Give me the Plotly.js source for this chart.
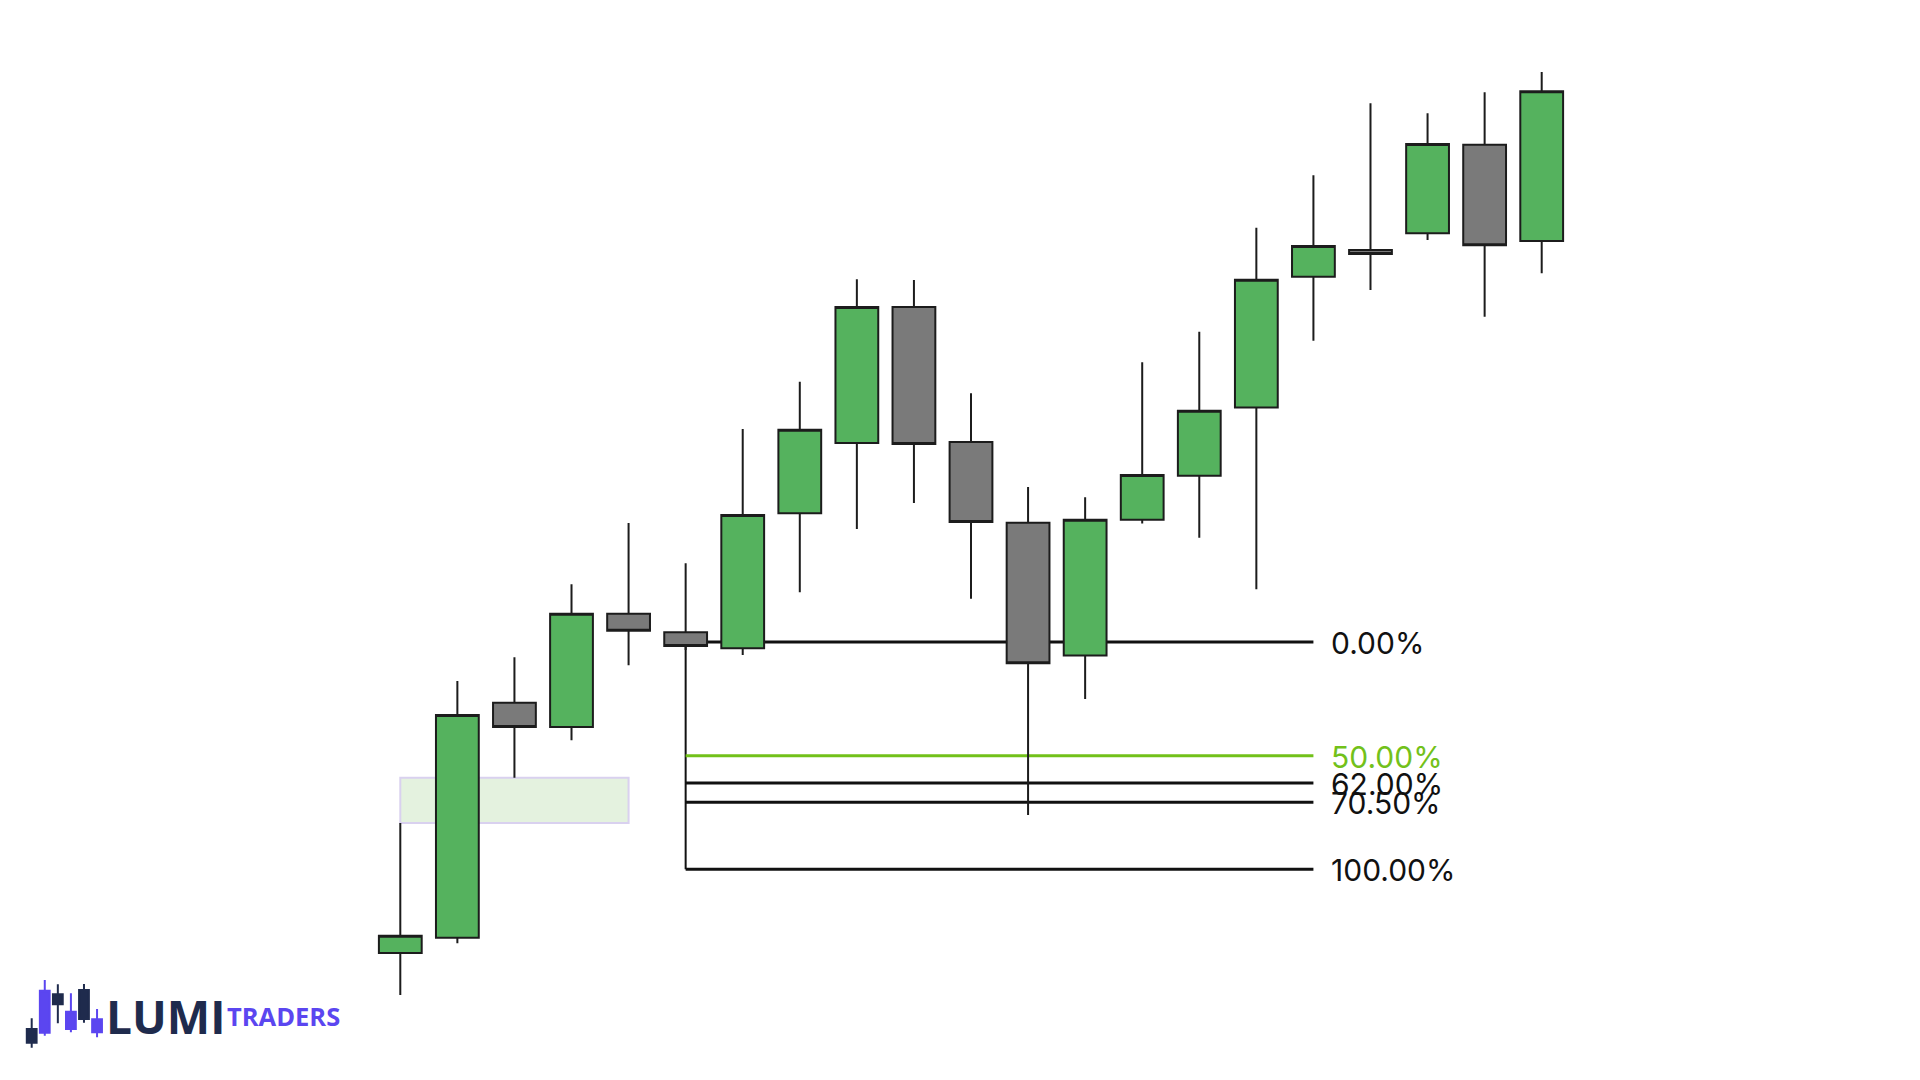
<!DOCTYPE html>
<html>
<head>
<meta charset="utf-8">
<script src="https://cdn.plot.ly/plotly-3.0.1.min.js"></script>
<style>
  html, body { margin: 0; padding: 0; background: #ffffff; }
  #chart { width: 1920px; height: 1080px; }
</style>
</head>
<body>
<div id="chart"></div>
<script>
// ---- main candles (price units) ----
const candleIdx = [0,1,2,3,4,5,6,7,8,9,10,11,12,13,14,15,16,17,18,19,20];
const openP  = [127, 142.3, 377.3, 353, 466.3, 447.7, 431.7, 566.7, 637, 773, 638, 557.3, 424.6, 560.3, 604.2, 672.6, 803.3, 830, 846.7, 935.3, 839];
const highP  = [257, 399, 422.7, 495.7, 557.1, 516.7, 651, 698.3, 800.7, 800, 686.7, 593, 582.8, 717.7, 748.3, 852.2, 904.7, 976.7, 966.7, 987.7, 1008];
const lowP   = [85, 136.7, 302.3, 339.7, 414.7, 430, 425, 487.7, 551, 577, 481.3, 265, 381, 556.5, 542.3, 490.7, 739.3, 790, 840, 763.3, 806.7];
const closeP = [144.3, 365, 353, 466.3, 449.3, 434, 565, 650.3, 773, 636, 558, 416.7, 560.3, 605, 669.2, 800.3, 834, 826, 936, 834.7, 988.7];

// ---- fair value gap zone ----
const zoneStart = 0, zoneEnd = 4;
const zoneBottom = highP[0];   // candle 1 high
const zoneTop = lowP[2];       // candle 3 low

// ---- fibonacci retracement ----
const fibStart = 5, fibEnd = 16;
const fibZero = 438;      // 0% level
const fibHundred = 210.7; // 100% level
const fibRatios = [0, 0.5, 0.62, 0.705, 1];
const fibLabels = ["0.00%", "50.00%", "62.00%", "70.50%", "100.00%"];
const fibColors = ["#111111", "#72c11a", "#111111", "#111111", "#111111"];

// ---- logo icon candles ----
const logoIdx   = [0,1,2,3,4,5];
const logoOpen  = [51, 47.3, 85.7, 51, 90, 47.7];
const logoHigh  = [61.7, 100, 95.7, 86.7, 96, 71];
const logoLow   = [32.3, 44.3, 56.7, 47.7, 57.3, 42.7];
const logoClose = [37.3, 89.3, 75.7, 68.3, 61, 60.7];

const GREEN = "#55b25e", GRAY = "#7a7a7a", OUT = "#1c1c1c";
const NAVY = "#1f2b4d", PURPLE = "#5b46f0";

const traces = [
  {
    type: "candlestick", x: candleIdx, open: openP, high: highP, low: lowP, close: closeP,
    increasing: { fillcolor: GREEN, line: { color: OUT, width: 2 } },
    decreasing: { fillcolor: GRAY, line: { color: OUT, width: 2 } },
    whiskerwidth: 0, showlegend: false, hoverinfo: "skip",
    xaxis: "x", yaxis: "y"
  },
  {
    type: "candlestick", x: logoIdx, open: logoOpen, high: logoHigh, low: logoLow, close: logoClose,
    increasing: { fillcolor: PURPLE, line: { color: PURPLE, width: 2 } },
    decreasing: { fillcolor: NAVY, line: { color: NAVY, width: 2 } },
    whiskerwidth: 0, showlegend: false, hoverinfo: "skip",
    xaxis: "x2", yaxis: "y2"
  }
];

const shapes = [
  {
    type: "rect", xref: "x", yref: "y", layer: "below",
    x0: zoneStart, x1: zoneEnd, y0: zoneBottom, y1: zoneTop,
    fillcolor: "#e4f2df", line: { color: "#d9d1ef", width: 2 }
  },
  {
    type: "line", xref: "x", yref: "y", layer: "below",
    x0: fibStart, x1: fibStart, y0: fibZero, y1: fibHundred,
    line: { color: "#111111", width: 2 }
  }
];
const annotations = [];
fibRatios.forEach((r, i) => {
  const lvl = fibZero - r * (fibZero - fibHundred);
  shapes.push({
    type: "line", xref: "x", yref: "y", layer: "below",
    x0: fibStart, x1: fibEnd, y0: lvl, y1: lvl,
    line: { color: fibColors[i], width: 3 }
  });
  annotations.push({
    xref: "x", yref: "y", x: fibEnd, y: lvl, xanchor: "left", yanchor: "middle",
    xshift: 16, yshift: -1, showarrow: false, text: fibLabels[i],
    font: { family: "Inter, 'Liberation Sans', sans-serif", size: 30, color: fibColors[i] }
  });
});

annotations.push({
  xref: "paper", yref: "paper", x: 104 / 1920, y: 1 - 1016 / 1080,
  xanchor: "left", yanchor: "middle", showarrow: false, text: "<b>LUMI</b>",
  font: { family: "'Open Sans', 'Noto Sans', sans-serif", size: 46, color: NAVY, weight: 800 }
});
annotations.push({
  xref: "paper", yref: "paper", x: 225 / 1920, y: 1 - 1016 / 1080,
  xanchor: "left", yanchor: "middle", showarrow: false, text: "<b>TRADERS</b>",
  font: { family: "'Open Sans', 'Noto Sans', sans-serif", size: 25.5, color: PURPLE, weight: 800 }
});

const spacing = 57.07;
const x0 = -400.3 / spacing;
const layout = {
  width: 1920, height: 1080,
  margin: { l: 0, r: 0, t: 0, b: 0 },
  paper_bgcolor: "#ffffff", plot_bgcolor: "rgba(0,0,0,0)",
  showlegend: false, boxgap: 0.25, boxgroupgap: 0,
  xaxis: { range: [x0, x0 + 1920 / spacing], visible: false, fixedrange: true, rangeslider: { visible: false }, domain: [0, 1] },
  yaxis: { range: [0, 1080], visible: false, fixedrange: true, domain: [0, 1] },
  xaxis2: { range: [-31.7 / 13.07, -31.7 / 13.07 + 192 / 13.07], visible: false, domain: [0, 0.1], anchor: "y2", rangeslider: { visible: false } },
  yaxis2: { range: [0, 108], visible: false, domain: [0, 0.1], anchor: "x2" },
  shapes: shapes,
  annotations: annotations
};

Plotly.newPlot("chart", traces, layout, { staticPlot: true, displayModeBar: false });
</script>
</body>
</html>
